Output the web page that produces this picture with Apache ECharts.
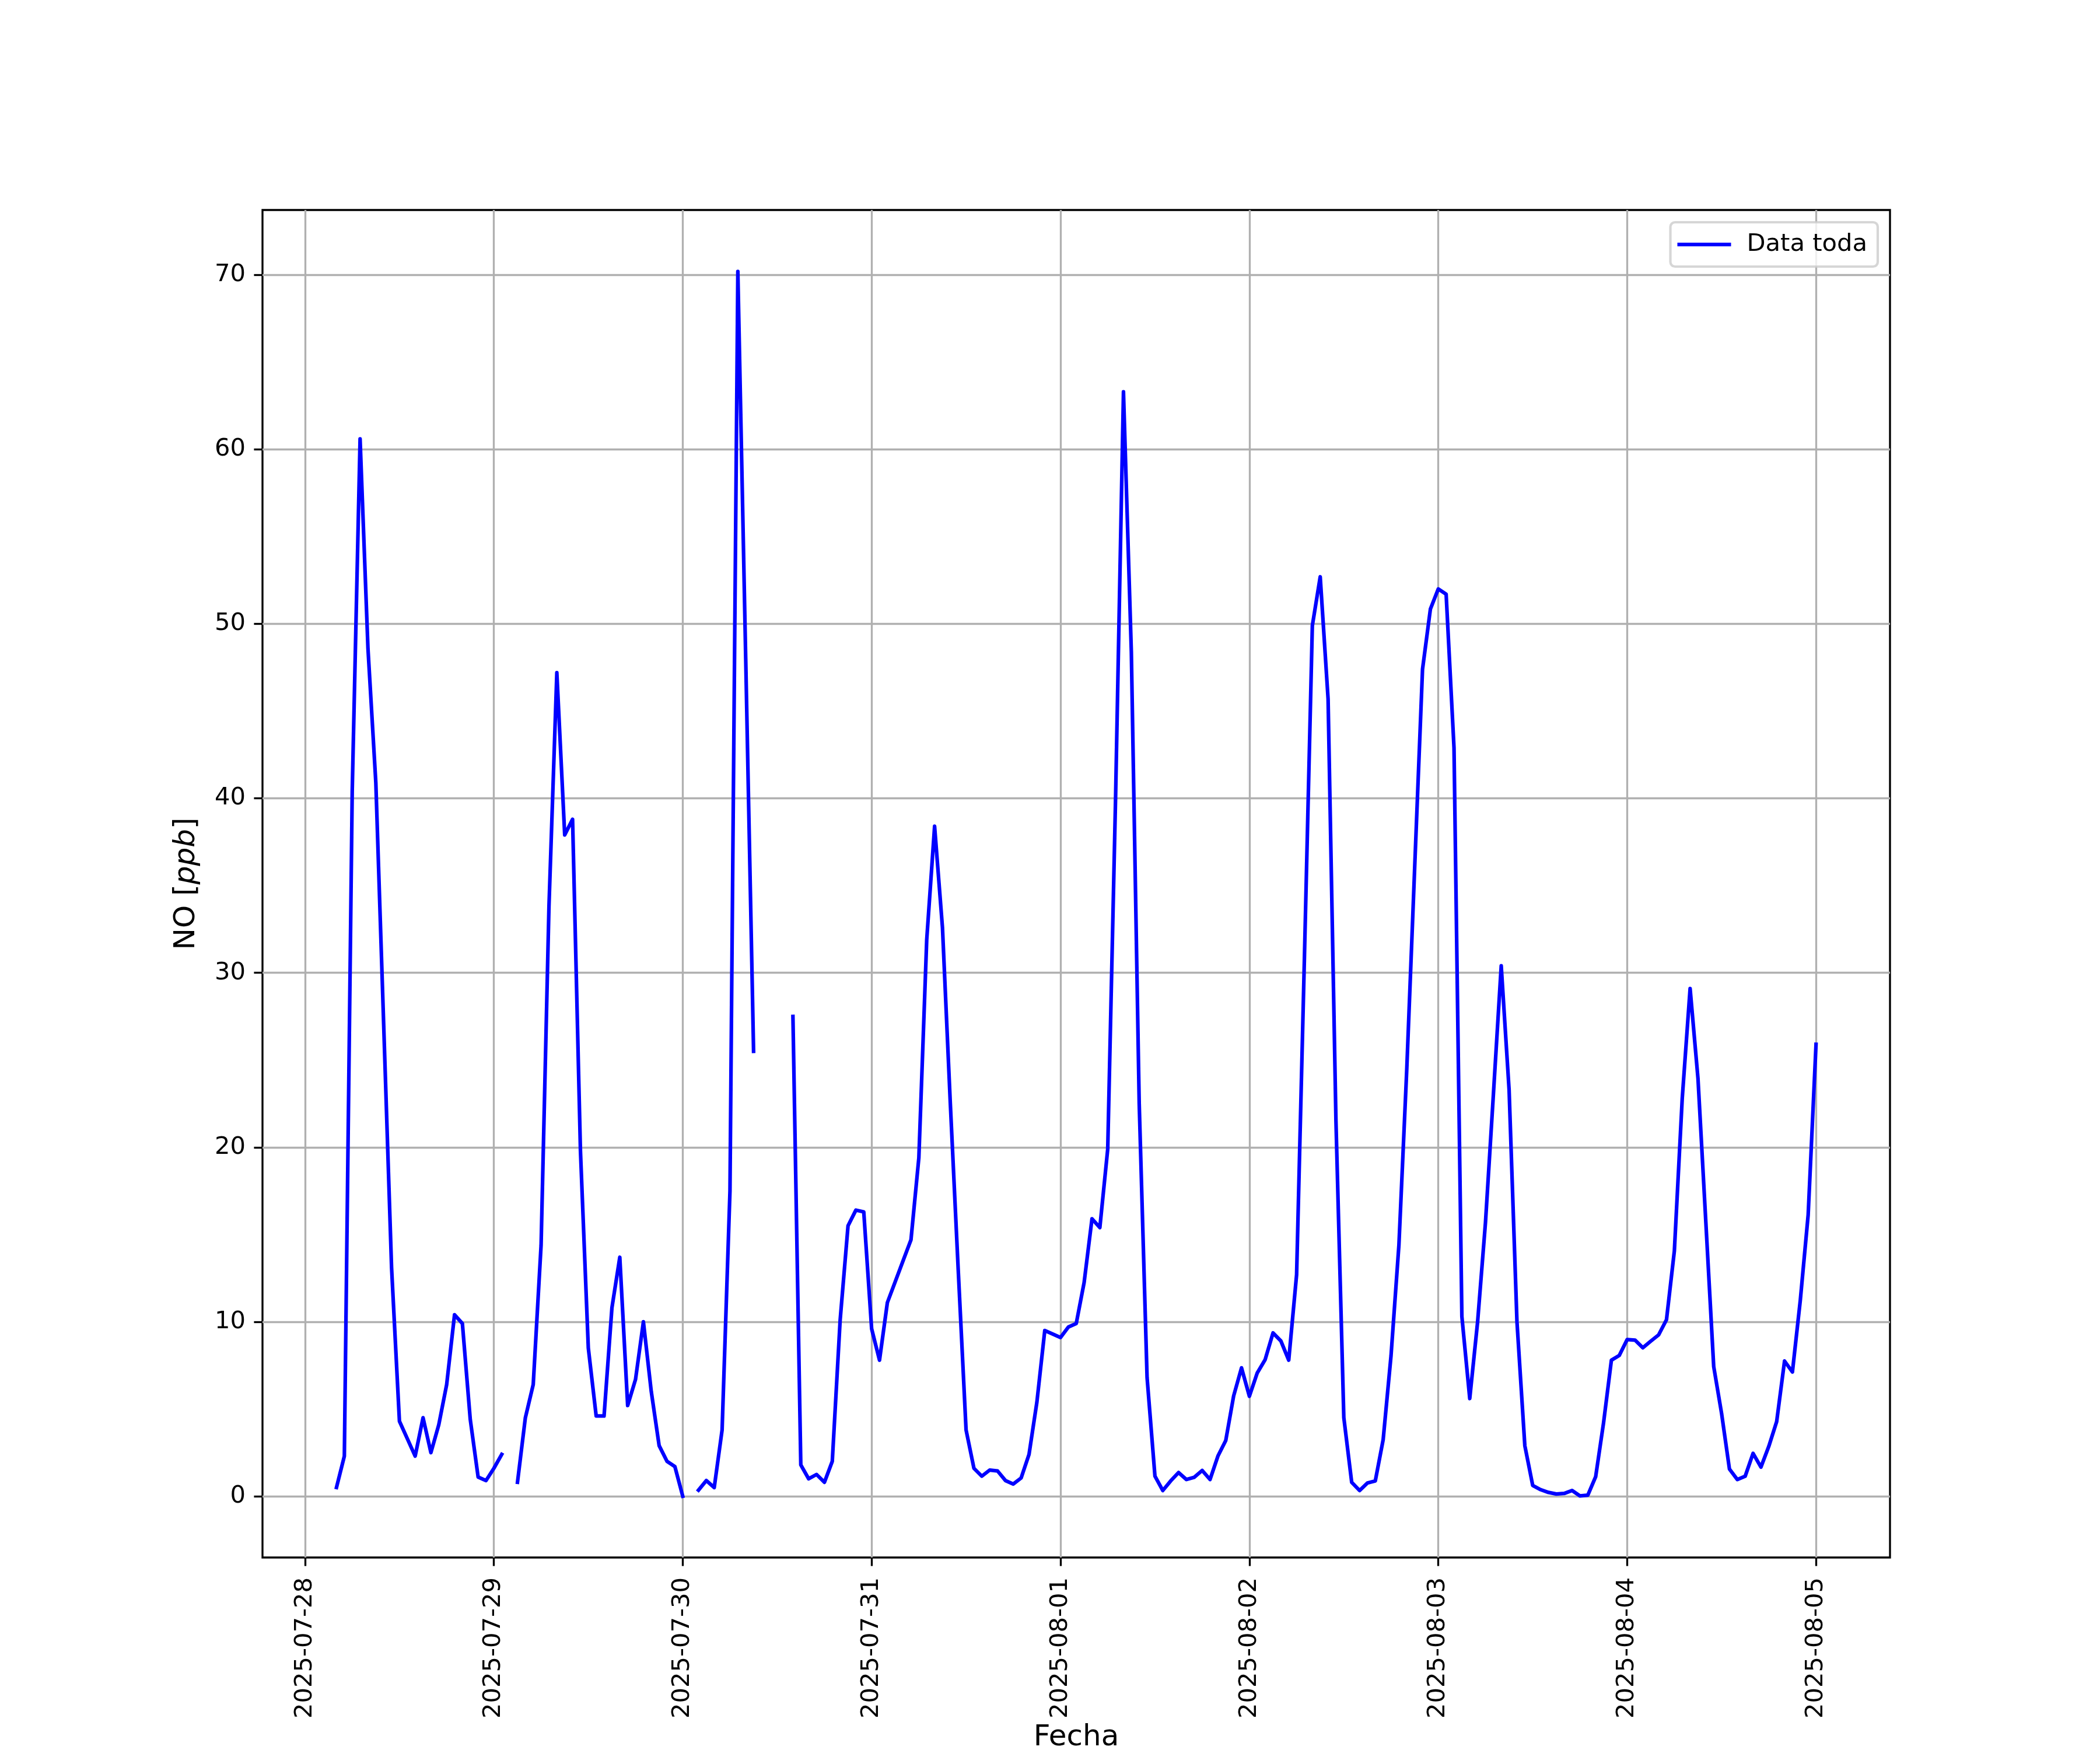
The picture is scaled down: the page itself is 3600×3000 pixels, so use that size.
<!DOCTYPE html>
<html>
<head>
<meta charset="utf-8">
<script src="https://cdn.jsdelivr.net/npm/echarts@6/dist/echarts.min.js"></script>
<style>
  html, body { margin: 0; padding: 0; background: #fff; }
  #main { width: 3600px; height: 3000px; }
</style>
</head>
<body>
<div id="main"></div>
<script>
// etiquetas del eje x (un tick a medianoche de cada día)
var dias = ['2025-07-28', '2025-07-29', '2025-07-30', '2025-07-31', '2025-08-01',
            '2025-08-02', '2025-08-03', '2025-08-04', '2025-08-05'];
var yTicks = [0, 10, 20, 30, 40, 50, 60, 70];

// NO horario [ppb], una lista por día (00:00 ... 23:00), null = sin dato
var no_0728 = [null, null, null, null, 0.5, 2.3, 40.4, 60.6, 48.6, 40.9, 27.0, 13.1,
               4.3, 3.3, 2.3, 4.5, 2.5, 4.1, 6.4, 10.4, 9.9, 4.4, 1.1, 0.9];
var no_0729 = [1.6, 2.4, null, 0.8, 4.5, 6.4, 14.4, 33.8, 47.2, 37.9, 38.8, 19.8,
               8.5, 4.6, 4.6, 10.8, 13.7, 5.2, 6.7, 10.0, 6.0, 2.9, 2.0, 1.7];
var no_0730 = [0.0, null, 0.35, 0.9, 0.5, 3.8, 17.5, 70.2, 48.0, 25.5, null, null,
               null, null, 27.5, 1.8, 1.0, 1.25, 0.8, 2.0, 10.1, 15.5, 16.4, 16.3];
var no_0731 = [9.6, 7.8, 11.1, 12.3, 13.5, 14.7, 19.4, 31.9, 38.4, 32.6, 22.5, 13.0,
               3.8, 1.6, 1.15, 1.5, 1.45, 0.9, 0.7, 1.05, 2.4, 5.4, 9.5, 9.3];
var no_0801 = [9.1, 9.7, 9.9, 12.25, 15.9, 15.4, 19.9, 40.1, 63.3, 48.4, 22.5, 6.8,
               1.15, 0.33, 0.88, 1.36, 0.96, 1.09, 1.48, 0.96, 2.3, 3.2, 5.75, 7.36];
var no_0802 = [5.73, 7.07, 7.83, 9.36, 8.9, 7.8, 12.7, 31.0, 49.9, 52.7, 45.7, 21.5,
               4.5, 0.8, 0.33, 0.76, 0.88, 3.25, 8.07, 14.4, 24.5, 36.0, 47.4, 50.85];
var no_0803 = [52.0, 51.7, 42.9, 10.3, 5.6, 10.0, 15.7, 23.0, 30.4, 23.3, 10.0, 2.9,
               0.62, 0.38, 0.22, 0.13, 0.16, 0.33, 0.02, 0.06, 1.12, 4.2, 7.8, 8.07];
var no_0804 = [8.98, 8.95, 8.51, 8.89, 9.25, 10.12, 14.06, 22.8, 29.1, 23.95, 15.7, 7.43,
               4.75, 1.56, 0.96, 1.15, 2.46, 1.67, 2.86, 4.28, 7.75, 7.12, 11.22, 16.12];
var no_0805 = [25.9];

var porDia = [no_0728, no_0729, no_0730, no_0731, no_0801, no_0802, no_0803, no_0804, no_0805];

// serie [tiempo, valor] a partir de las listas diarias
var serie = [];
porDia.forEach(function (vals, d) {
  var t0 = Date.parse(dias[d] + 'T00:00:00Z');
  vals.forEach(function (v, h) {
    serie.push([t0 + h * 3600 * 1000, v]);
  });
});
var ticksX = dias.map(function (d) { return Date.parse(d + 'T00:00:00Z'); });

var fuente = 'DejaVu Sans';
var pt = 300 / 72; // figura a 300 dpi

var myChart = echarts.init(document.getElementById('main'), null, { renderer: 'canvas' });

var option = {
  animation: false,
  backgroundColor: '#ffffff',
  textStyle: { fontFamily: fuente, color: '#000' },
  grid: {
    left: 450, right: 360, top: 360, bottom: 330,
    outerBoundsMode: 'none',
    containLabel: false,
    show: true,
    borderColor: '#000',
    borderWidth: 0.8 * pt,
    backgroundColor: 'transparent'
  },
  legend: {
    right: 381,
    top: 381,
    orient: 'horizontal',
    icon: 'rect',
    itemWidth: 92,
    itemHeight: 1.5 * pt,
    itemStyle: { color: '#0000ff', borderWidth: 0 },
    padding: [17, 18, 17, 12],
    backgroundColor: 'rgba(255,255,255,0.8)',
    borderColor: 'rgba(204,204,204,0.8)',
    borderWidth: 1.0 * pt,
    borderRadius: 8,
    formatter: function (name) { return '{t|' + name + '}'; },
    textStyle: {
      fontFamily: fuente,
      fontSize: 10 * pt,
      color: '#000',
      rich: {
        t: { fontFamily: fuente, fontSize: 10 * pt, color: '#000', padding: [0, 0, 0, 22] }
      }
    },
    data: ['Data toda']
  },
  xAxis: {
    type: 'value',
    min: Date.parse('2025-07-27T18:36:00Z'),
    max: Date.parse('2025-08-05T09:24:00Z'),
    name: 'Fecha',
    nameLocation: 'middle',
    nameGap: 283,
    nameTextStyle: { fontFamily: fuente, fontSize: 12 * pt, color: '#000' },
    axisLine: { show: false, onZero: false },
    axisTick: {
      show: true,
      inside: false,
      length: 3.5 * pt,
      lineStyle: { color: '#000', width: 0.8 * pt },
      customValues: ticksX
    },
    axisLabel: {
      show: true,
      rotate: 90,
      margin: 34,
      fontFamily: fuente,
      fontSize: 10 * pt,
      color: '#000',
      customValues: ticksX,
      formatter: function (v) { return new Date(v).toISOString().slice(0, 10); }
    },
    splitLine: { show: true, lineStyle: { color: '#b0b0b0', width: 0.8 * pt } }
  },
  yAxis: {
    type: 'value',
    min: -3.51,
    max: 73.72,
    name: 'NO [{i|ppb}]',
    nameLocation: 'middle',
    nameGap: 105,
    nameTextStyle: {
      fontFamily: fuente,
      fontSize: 12 * pt,
      color: '#000',
      rich: { i: { fontFamily: fuente, fontStyle: 'italic', fontSize: 12 * pt, color: '#000' } }
    },
    axisLine: { show: false, onZero: false },
    axisTick: {
      show: true,
      inside: false,
      length: 3.5 * pt,
      lineStyle: { color: '#000', width: 0.8 * pt },
      customValues: yTicks
    },
    axisLabel: {
      show: true,
      margin: 29,
      fontFamily: fuente,
      fontSize: 10 * pt,
      color: '#000',
      customValues: yTicks
    },
    splitLine: { show: true, lineStyle: { color: '#b0b0b0', width: 0.8 * pt } }
  },
  series: [
    {
      name: 'Data toda',
      type: 'line',
      data: serie,
      showSymbol: false,
      symbol: 'none',
      connectNulls: false,
      lineStyle: { color: '#0000ff', width: 1.5 * pt, cap: 'square', join: 'round' },
      itemStyle: { color: '#0000ff' },
      emphasis: { disabled: true }
    }
  ]
};

myChart.setOption(option);
</script>
</body>
</html>
